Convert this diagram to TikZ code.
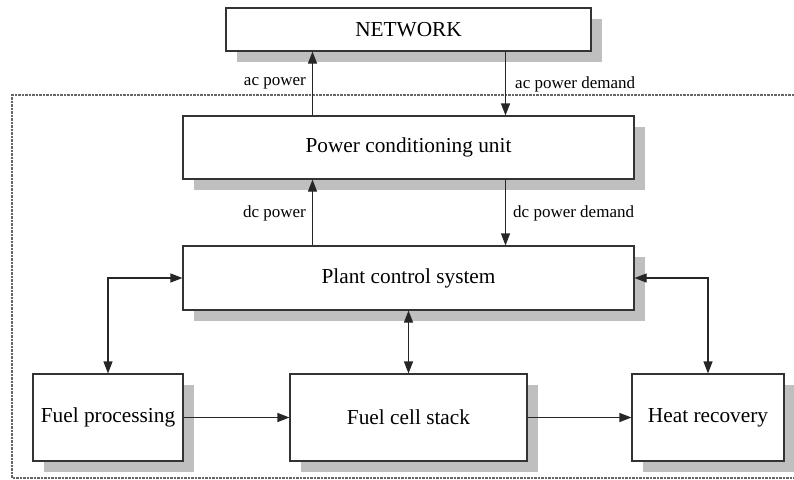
\documentclass[tikz,border=0pt]{standalone}
\usepackage{fontspec}
\setmainfont{Liberation Serif}
\usetikzlibrary{shadows,arrows.meta,calc}
\begin{document}
\begin{tikzpicture}[x=1pt,y=-1pt,
  block/.style={draw=black!80, line width=1.1pt, fill=white, inner sep=0pt,
    font=\fontsize{21.3}{24}\selectfont,
    drop shadow={shadow xshift=11pt, shadow yshift=-11pt, fill=black!25, opacity=1}},
  tip/.tip={Triangle[length=12pt,width=9pt]},
  flow/.style={line width=1.1pt, draw=black!85, -tip},
  bflow/.style={line width=1.1pt, draw=black!85, tip-tip},
  lbl/.style={font=\fontsize{17}{20}\selectfont, inner sep=0pt},
  boundary/.style={draw=black!60, line width=1.1pt, dash pattern=on 2.5pt off 1pt}]
\useasboundingbox (0,0) rectangle (794,479);

% plant boundary
\draw[boundary] (794,95) -- (12,95) -- (12,478) -- (794,478);

% blocks
\node[block, minimum width=365pt, minimum height=43pt] (network) at (408.5,29.5) {NETWORK};
\node[block, minimum width=451pt, minimum height=63pt] (pcu) at (408.5,147.5) {Power conditioning unit};
\node[block, minimum width=451pt, minimum height=64pt] (pcs) at (408.5,278) {Plant control system};
\node[block, minimum width=150pt, minimum height=87pt] (fp) at (108,417.5) {Fuel processing};
\node[block, minimum width=237pt, minimum height=87pt] (fcs) at (408.5,417.5) {Fuel cell stack};
\node[block, minimum width=152pt, minimum height=87pt] (hr) at (708,417.5) {Heat recovery};

% vertical lanes for the power flows
\coordinate (lx) at (312.5,0);
\coordinate (rx) at (505.5,0);

\draw[flow] (pcu.north -| lx) -- (network.south -| lx);
\draw[flow] (network.south -| rx) -- (pcu.north -| rx);
\draw[flow] (pcs.north -| lx) -- (pcu.south -| lx);
\draw[flow] (pcu.south -| rx) -- (pcs.north -| rx);

\node[lbl, anchor=east] (acp) at (306,83) {ac power};
\node[lbl, anchor=west] (acd) at (515,84) {ac power demand};
\node[lbl, anchor=east] (dcp) at (306,213) {dc power};
\node[lbl, anchor=west] (dcd) at (513,213) {dc power demand};

% control links
\draw[bflow] (pcs.west) -| (fp.north);
\draw[bflow] (pcs.east) -| (hr.north);
\draw[bflow] (pcs.south) -- (fcs.north);

% process flow
\draw[flow] (fp.east) -- (fcs.west);
\draw[flow] (fcs.east) -- (hr.west);
\end{tikzpicture}
\end{document}
